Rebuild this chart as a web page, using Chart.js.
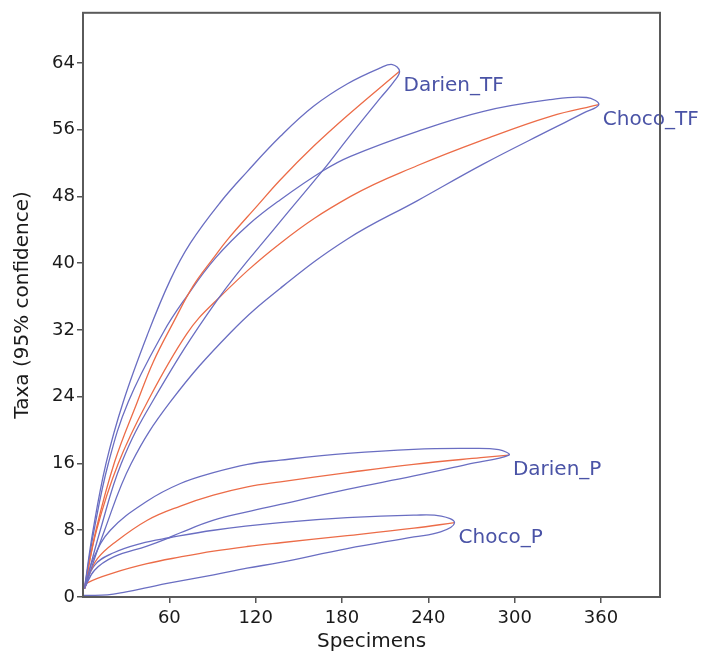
<!DOCTYPE html>
<html><head><meta charset="utf-8">
<script src="https://cdn.jsdelivr.net/npm/chart.js@4.4.0/dist/chart.umd.min.js"></script>
<style>html,body{margin:0;padding:0;background:#fff}canvas{display:block}</style>
</head><body>
<canvas id="c" width="701" height="655"></canvas>
<script>
// ---- axis ticks ----
const xTicks = [60, 120, 180, 240, 300, 360];
const yTicks = [0, 8, 16, 24, 32, 40, 48, 56, 64];

// ---- series labels ----
const groupNames = ['Darien_TF', 'Choco_TF', 'Darien_P', 'Choco_P'];

// ---- Darien_TF: [specimens, taxa] ----
const darienTF_upper = [[1,1],[7,8],[16,16],[28,23.4],[44.7,31.4],[60.7,38],[74.6,42.4],[95.5,47.3],[114.3,51.0],[137.2,55.2],[160.2,58.8],[183.8,61.5],[206.7,63.4],[215,63.8]];
const darienTF_mean  = [[1,1],[9,8],[22,16.2],[37.8,23.4],[48.9,28.2],[62.8,32.9],[76.7,37.3],[90.6,40.6],[100.3,42.8],[121.2,46.9],[137.2,50.0],[160.2,54.0],[183.8,57.7],[220,63]];
const darienTF_lower = [[1,1],[12,8],[26.6,16],[48.2,23.4],[93.4,35.6],[137.2,45],[167.1,51.2],[183.8,54.9],[206.7,59.8],[215.8,61.7]];

// ---- Choco_TF ----
const chocoTF_upper = [[1,1],[7.7,8],[17.6,16],[31.5,23.4],[55.8,31.7],[72,36.0],[92,40.6],[115,44.6],[137.2,47.6],[167.1,51.1],[185.9,52.8],[232.5,55.8],[278.4,58.2],[324.9,59.6],[350,59.85]];
const chocoTF_mean  = [[1,1],[9.4,8],[24.5,16],[44.8,23.4],[72,31.5],[90.6,35.2],[137.2,42.4],[186,48],[232.5,51.7],[278.4,54.8],[324.9,57.6],[358.5,59]];
const chocoTF_lower = [[1,1],[15,8],[33.5,16],[60.8,23.4],[102.6,31.7],[137.2,37],[183.8,42.9],[232.5,47.5],[278.4,51.9],[324.9,56],[348,58]];

// ---- Darien_P ----
const darienP_upper = [[1,1],[7,4.5],[19,8],[44.7,11.5],[67.7,13.6],[90.6,14.9],[114.3,15.9],[137.2,16.4],[183.8,17.2],[229.7,17.7],[267.2,17.8],[289,17.65]];
const darienP_mean  = [[1,1],[5,3],[10,4.6],[21.1,6.4],[44.7,9.2],[67.7,10.9],[90.6,12.2],[114.3,13.2],[137.2,13.8],[183.8,14.9],[229.7,15.9],[276.4,16.7],[296,17]];
const darienP_lower = [[1,1],[8,3.2],[21.3,4.8],[44.5,6.1],[58.4,7.0],[67.7,7.7],[90.8,9.2],[114,10.2],[137.2,11.1],[183.6,12.9],[230,14.5],[267,15.9]];

// ---- Choco_P ----
const chocoP_upper = [[1,1],[8,3.8],[21.3,5.3],[40,6.4],[60,7.1],[90.8,8.0],[137.2,8.9],[183.6,9.5],[229.8,9.8],[249,9.7]];
const chocoP_mean  = [[1,1],[3,1.7],[21.3,2.9],[44.5,4.0],[67.7,4.8],[90.8,5.5],[114,6.05],[137.2,6.5],[183.6,7.35],[230,8.25],[258.2,8.9]];
const chocoP_lower = [[0.5,0.2],[17,0.25],[30,0.62],[44.5,1.12],[58.4,1.62],[90.8,2.65],[114,3.45],[137.2,4.15],[183.6,5.8],[230,7.2],[248.5,7.8]];

const groups = [
  [darienTF_upper, darienTF_mean, darienTF_lower],
  [chocoTF_upper, chocoTF_mean, chocoTF_lower],
  [darienP_upper, darienP_mean, darienP_lower],
  [chocoP_upper, chocoP_mean, chocoP_lower]
];

const BLUE = '#6a6ec2';
const ORANGE = '#ec6c48';
const LABEL = '#4a53a6';
const toXY = a => a.map(([x, y]) => ({x, y}));

const datasets = [];
groups.forEach(([up, mean, low]) => {
  const tip = mean[mean.length - 1];
  datasets.push({
    data: toXY(up.concat([tip], low.slice().reverse())),
    borderColor: BLUE, borderWidth: 1.3, showLine: true, pointRadius: 0, tension: 0.4, fill: false
  });
  datasets.push({
    data: toXY(mean),
    borderColor: ORANGE, borderWidth: 1.3, showLine: true, pointRadius: 0, tension: 0.4, fill: false
  });
});

const framePlugin = {
  id: 'frame',
  afterDraw(chart) {
    const {ctx, chartArea: a} = chart;
    ctx.save();
    ctx.strokeStyle = '#5a5a5a';
    ctx.lineWidth = 2;
    ctx.strokeRect(a.left, a.top, a.right - a.left, a.bottom - a.top);
    ctx.restore();
  }
};

const labelPlugin = {
  id: 'groupLabels',
  afterDatasetsDraw(chart) {
    const {ctx, scales: {x, y}} = chart;
    ctx.save();
    ctx.font = '20px "DejaVu Sans"';
    ctx.fillStyle = LABEL;
    ctx.textAlign = 'left';
    ctx.textBaseline = 'alphabetic';
    groups.forEach((g, i) => {
      const tip = g[1][g[1].length - 1];
      const px = x.getPixelForValue(tip[0]);
      const py = y.getPixelForValue(tip[1]);
      ctx.fillText(groupNames[i], px + 4, py + 20);
    });
    ctx.restore();
  }
};

Chart.defaults.font.family = '"DejaVu Sans"';
Chart.defaults.color = '#1a1a1a';

new Chart(document.getElementById('c'), {
  type: 'scatter',
  data: {datasets},
  options: {
    responsive: false,
    animation: false,
    devicePixelRatio: 1,
    layout: {padding: {top: 7, right: 41, left: 0, bottom: 0}},
    plugins: {legend: {display: false}, tooltip: {enabled: false}},
    scales: {
      x: {
        type: 'linear', min: 0, max: 401,
        afterBuildTicks: s => { s.ticks = xTicks.map(v => ({value: v})); },
        afterFit: s => { s.height = 58; },
        grid: {drawOnChartArea: false, drawTicks: true, tickLength: 6, color: '#555', lineWidth: 1.5},
        border: {display: false},
        ticks: {font: {size: 18}, padding: 5, color: '#1a1a1a', maxRotation: 0, autoSkip: false},
        title: {display: true, text: 'Specimens', font: {size: 20}, color: '#1a1a1a', padding: {top: 0, bottom: 1}}
      },
      y: {
        type: 'linear', min: 0, max: 70,
        afterBuildTicks: s => { s.ticks = yTicks.map(v => ({value: v})); },
        afterFit: s => { s.width = 83; },
        grid: {drawOnChartArea: false, drawTicks: true, tickLength: 6, color: '#555', lineWidth: 1.5},
        border: {display: false},
        ticks: {font: {size: 18}, padding: 2, color: '#1a1a1a', autoSkip: false},
        title: {display: true, text: 'Taxa (95% confidence)', font: {size: 20}, color: '#1a1a1a', padding: {top: 11, bottom: 0}}
      }
    }
  },
  plugins: [framePlugin, labelPlugin]
});
</script>
</body></html>
